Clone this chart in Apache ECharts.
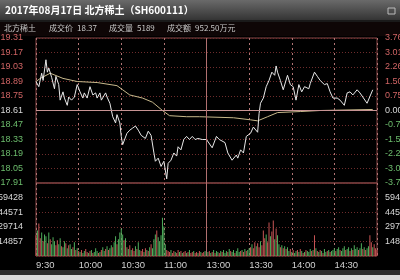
<!DOCTYPE html>
<html><head><meta charset="utf-8">
<script src="https://cdn.jsdelivr.net/npm/echarts@6.0.0/dist/echarts.min.js"></script>
<style>html,body{margin:0;padding:0;background:#000;overflow:hidden}#c{width:400px;height:280px}</style>
</head><body><div id="c"></div>
<script>
// ---------- data ----------
const titleText = '2017年08月17日 北方稀土（SH600111）';
const infoTexts = ['北方稀土', '成交价', '18.37', '成交量', '5189', '成交额', '952.50万元'];
const timeLabels = ['9:30', '10:00', '10:30', '11:00', '13:00', '13:30', '14:00', '14:30'];
const preClose = 18.61;
const priceMin = 17.91, priceMax = 19.31, priceStep = 0.14;
const volMax = 74285, volStep = 14857;

const priceMinutes = [0,2,4,5,7,8,9,11,13,14,16,17,19,20,22,23,25,27,29,31,33,34,36,38,40,42,43,45,46,49,50,52,54,56,57,59,60,61,64,66,68,70,72,74,77,79,81,83,84,86,88,90,92,93,95,97,99,100,102,104,106,108,110,112,114,117,
  120,124,127,129,133,135,138,141,142,144,146,148,151,153,154,156,157,158,160,162,164,166,168,169,170,172,174,177,179,181,183,185,187,189,192,193,196,198,200,203,205,207,209,212,214,217,219,221,223,226,228,230,233,237];
const prices = [18.89,18.84,18.97,18.90,19.10,18.98,19.02,18.93,18.82,18.94,18.86,18.71,18.79,18.73,18.66,18.74,18.71,18.74,18.86,18.79,18.73,18.78,18.73,18.84,18.76,18.78,18.73,18.78,18.71,18.78,18.74,18.68,18.55,18.49,18.57,18.49,18.36,18.28,18.39,18.42,18.44,18.46,18.42,18.37,18.34,18.41,18.37,18.20,18.12,18.15,18.07,18.12,17.95,18.10,18.13,18.20,18.17,18.26,18.23,18.33,18.36,18.33,18.36,18.33,18.34,18.33,
  18.33,18.25,18.36,18.33,18.30,18.20,18.13,18.18,18.15,18.23,18.20,18.36,18.39,18.45,18.44,18.40,18.58,18.68,18.73,18.84,18.90,18.98,18.95,19.04,18.98,18.90,18.81,18.95,18.86,18.84,18.71,18.86,18.79,18.84,18.82,18.87,18.98,18.94,18.90,18.86,18.87,18.79,18.73,18.73,18.71,18.66,18.78,18.79,18.76,18.81,18.78,18.74,18.68,18.81];

const avgMinutes = [0,3,10,19,29,43,57,61,66,75,82,89,94,106,115,139,151,156,163,170,186,200,237];
const avgPrices = [18.89,18.92,18.97,18.92,18.89,18.88,18.85,18.81,18.76,18.73,18.69,18.61,18.56,18.55,18.55,18.54,18.52,18.51,18.55,18.59,18.60,18.61,18.62];

const volumes = [
  21000,26000,33000,18000,24000,15000,22000,20000,13000,24000,17000,12000,19000,15000,11000,16000,
  12000,18000,10000,9000,15000,13000,8000,11000,12000,7000,9000,14000,6000,8000,
  5000,4000,6000,3000,5000,7000,4000,3000,5000,6000,3000,4000,8000,5000,3000,4000,
  6000,9000,5000,7000,10000,6000,8000,11000,9000,
  14000,20000,12000,17000,24000,28000,22000,16000,18000,
  9000,7000,11000,6000,8000,5000,10000,7000,14000,6000,
  5000,7000,4000,8000,6000,5000,9000,12000,8000,
  17000,22000,26000,19000,15000,21000,
  39000,30000,12000,6000,
  5000,4000,6000,3000,5000,4000,3000,6000,4000,5000,3000,4000,5000,3000,4000,6000,3000,4000,5000,3000,4000,3000,5000,4000,3000,4000,5000,6000,
  4000,5000,3000,4000,6000,3000,5000,4000,3000,5000,4000,6000,3000,5000,4000,7000,5000,4000,6000,3000,5000,8000,4000,5000,6000,4000,7000,5000,6000,8000,
  9000,12000,8000,14000,10000,13000,9000,15000,11000,
  26000,18000,22000,14000,34000,20000,25000,36000,17000,28000,21000,
  12000,9000,11000,8000,10000,7000,9000,
  5000,7000,4000,6000,3000,5000,6000,4000,7000,5000,3000,4000,6000,5000,4000,7000,5000,6000,
  21000,
  8000,5000,4000,6000,5000,3000,7000,4000,5000,6000,4000,5000,
  6000,8000,5000,7000,9000,6000,5000,8000,10000,6000,7000,9000,5000,8000,6000,11000,7000,9000,6000,8000,13000,7000,9000,6000,8000,
  10000,21000,14000,9000,12000,8000,6000
];
const volDir =
  'rgrrgrggrgrgggrr' + 'ggrggrgrggrgrg' + 'rgrggrrgrgrgggrg' + 'rggrgrggr' + 'ggrggggrg' +
  'rgrgrrgrgg' + 'rrgrgrgrg' + 'ggrggg' + 'gggr' + 'rrgrrgrrgrgrrgrgrrgrrgrgrrgr' +
  'grgrgrggrgrgggrgrggrgggrgrgrgg' + 'rgrrgrrgr' + 'rrgrrgrrgrg' + 'grgrgrg' +
  'grgrggrgrgrgrgggrg' + 'r' + 'grgrgrggrgrg' + 'ggrggrgggrggrgrgggrggrgrg' + 'grrgrrr';

// ---------- chart ----------
const RED = '#c85555', GREEN = '#4fae5c';
const chart = echarts.init(document.getElementById('c'), null, {renderer: 'canvas'});
const labelFont = {fontFamily: '"Liberation Sans", Arial, sans-serif', fontSize: 9};
const priceColor = v => { v = Number(v); return v > preClose + 1e-6 ? '#d06464' : (v < preClose - 1e-6 ? '#6cbc6c' : '#d8d8d8'); };
const gridStyle = {show: true, borderColor: '#8a4848', borderWidth: 1, backgroundColor: 'transparent', containLabel: false, outerBoundsMode: 'none'};
const hSplit = {show: true, lineStyle: {color: '#6e2c2c', type: [1, 2], width: 1}};
const vSplit = {show: true, lineStyle: {color: '#b07474', type: [2, 3], width: 1}};

const infoX = [4, 49, 77, 109, 137, 167, 195];
const graphics = [
  {type: 'rect', shape: {x: 0, y: 0, width: 400, height: 20}, style: {fill: new echarts.graphic.LinearGradient(0, 0, 0, 1, [{offset: 0, color: '#6a6a6a'}, {offset: 1, color: '#343434'}])}, silent: true},
  {type: 'rect', shape: {x: 0, y: 20, width: 400, height: 2}, style: {fill: '#1a1a1a'}, silent: true},
  {type: 'rect', shape: {x: 0, y: 22, width: 400, height: 14}, style: {fill: '#0e0606'}, silent: true},
  {type: 'text', x: 5, y: 10, style: {text: titleText, fill: '#ffffff', font: 'bold 10px "Noto Sans CJK SC", sans-serif', verticalAlign: 'middle'}, silent: true},
  {type: 'rect', shape: {x: 388, y: 8, width: 7, height: 6}, style: {fill: 'none', stroke: '#bbbbbb', lineWidth: 1}, silent: true},
  {type: 'rect', shape: {x: 0, y: 270, width: 400, height: 5}, style: {fill: '#2e2e2e'}, silent: true},
  {type: 'rect', shape: {x: 0, y: 275, width: 400, height: 5}, style: {fill: '#dcdcdc'}, silent: true}
];
infoTexts.forEach((t, i) => graphics.push({type: 'text', x: infoX[i], y: 28, style: {text: t, fill: '#c8c8c8', font: '8px "Noto Sans CJK SC", sans-serif', verticalAlign: 'middle'}, silent: true}));

const option = {
  backgroundColor: '#000',
  animation: false,
  graphic: graphics,
  grid: [
    Object.assign({left: 36, right: 23, top: 38, height: 145}, gridStyle),
    Object.assign({left: 36, right: 23, top: 183, height: 73}, gridStyle)
  ],
  xAxis: [
    {gridIndex: 0, type: 'value', min: 0, max: 240, interval: 30, axisLine: {show: false}, axisTick: {show: false}, axisLabel: {show: false}, splitLine: vSplit},
    {gridIndex: 1, type: 'value', min: 0, max: 240, interval: 30, axisLine: {show: false}, axisTick: {show: false}, splitLine: vSplit,
      axisLabel: Object.assign({show: true, color: '#d0d0d0', fontSize: 9.5, align: 'left', margin: 4, showMaxLabel: false,
        formatter: v => timeLabels[Math.round(v / 30)] || ''}, {fontFamily: labelFont.fontFamily})}
  ],
  yAxis: [
    {gridIndex: 0, type: 'value', min: priceMin, max: priceMax, interval: priceStep, axisLine: {show: false}, axisTick: {show: false}, splitLine: hSplit,
      axisLabel: Object.assign({margin: 13, color: priceColor, formatter: v => Number(v).toFixed(2)}, labelFont)},
    {gridIndex: 0, type: 'value', position: 'right', min: priceMin, max: priceMax, interval: priceStep, axisLine: {show: false}, axisTick: {show: false}, splitLine: {show: false},
      axisLabel: Object.assign({margin: 8, align: 'left', color: priceColor, formatter: v => ((Number(v) - preClose) / preClose * 100).toFixed(2) + '%'}, labelFont)},
    {gridIndex: 1, type: 'value', min: 0, max: volMax, interval: volStep, axisLine: {show: false}, axisTick: {show: false}, splitLine: hSplit,
      axisLabel: Object.assign({margin: 13, color: '#d8d8d8', showMinLabel: false, showMaxLabel: false, formatter: v => String(Math.round(v))}, labelFont)},
    {gridIndex: 1, type: 'value', position: 'right', min: 0, max: volMax, interval: volStep, axisLine: {show: false}, axisTick: {show: false}, splitLine: {show: false},
      axisLabel: Object.assign({margin: 8, align: 'left', color: '#d8d8d8', showMinLabel: false, showMaxLabel: false, formatter: v => String(Math.round(v))}, labelFont)}
  ],
  series: [
    {type: 'line', xAxisIndex: 0, yAxisIndex: 0, data: avgMinutes.map((m, i) => [m, avgPrices[i]]), showSymbol: false, silent: true,
      lineStyle: {color: '#c8b98c', width: 1}, z: 3},
    {type: 'line', xAxisIndex: 0, yAxisIndex: 0, data: priceMinutes.map((m, i) => [m, prices[i]]), showSymbol: false, silent: true,
      lineStyle: {color: '#e8e8e8', width: 1}, z: 4,
      markLine: {silent: true, symbol: 'none', label: {show: false}, animation: false,
        data: [{yAxis: preClose, lineStyle: {color: '#c89494', type: 'solid', width: 1}}, {xAxis: 120, lineStyle: {color: '#b07070', type: 'solid', width: 1}}]}},
    {type: 'bar', xAxisIndex: 1, yAxisIndex: 2, barWidth: 1, silent: true,
      data: volumes.map((v, i) => ({value: [i, v], itemStyle: {color: volDir[i] === 'r' ? RED : GREEN}})),
      markLine: {silent: true, symbol: 'none', label: {show: false}, animation: false,
        data: [{xAxis: 120, lineStyle: {color: '#b07070', type: 'solid', width: 1}}]}}
  ]
};
chart.setOption(option);
</script>
</body></html>
